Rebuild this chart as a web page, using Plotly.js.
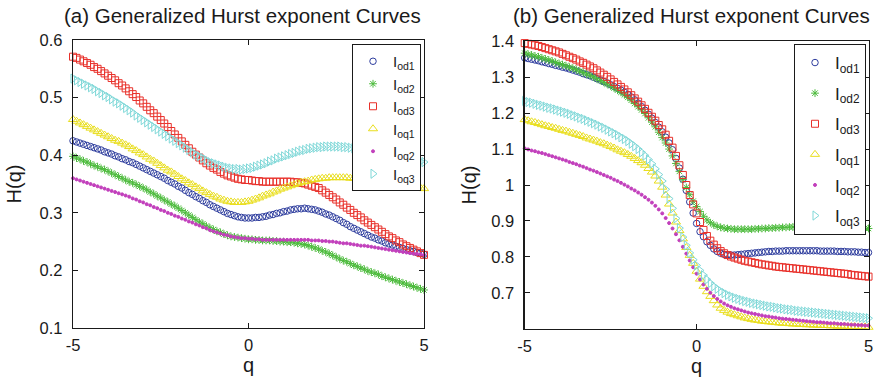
<!DOCTYPE html>
<html><head><meta charset="utf-8">
<script src="https://cdn.plot.ly/plotly-3.0.1.min.js"></script>
<style>html,body{margin:0;padding:0;background:#fff}#chart{width:875px;height:377px}</style>
</head><body><div id="chart"></div>
<script>
const q = [-5.0,-4.9,-4.8,-4.7,-4.6,-4.5,-4.4,-4.3,-4.2,-4.1,
-4.0,-3.9,-3.8,-3.7,-3.6,-3.5,-3.4,-3.3,-3.2,-3.1,
-3.0,-2.9,-2.8,-2.7,-2.6,-2.5,-2.4,-2.3,-2.2,-2.1,
-2.0,-1.9,-1.8,-1.7,-1.6,-1.5,-1.4,-1.3,-1.2,-1.1,
-1.0,-0.9,-0.8,-0.7,-0.6,-0.5,-0.4,-0.3,-0.2,-0.1,
0.0,
0.1,0.2,0.3,0.4,0.5,0.6,0.7,0.8,0.9,1.0,
1.1,1.2,1.3,1.4,1.5,1.6,1.7,1.8,1.9,2.0,
2.1,2.2,2.3,2.4,2.5,2.6,2.7,2.8,2.9,3.0,
3.1,3.2,3.3,3.4,3.5,3.6,3.7,3.8,3.9,4.0,
4.1,4.2,4.3,4.4,4.5,4.6,4.7,4.8,4.9,5.0];

const seriesNames = ['I<sub>od1</sub>','I<sub>od2</sub>','I<sub>od3</sub>','I<sub>oq1</sub>','I<sub>oq2</sub>','I<sub>oq3</sub>'];

// (a) left panel
const a_od1 = [0.425,0.423,0.421,0.419,0.417,0.415,0.413,0.411,0.409,0.406,
0.404,0.402,0.399,0.397,0.394,0.392,0.389,0.387,0.384,0.381,
0.378,0.375,0.372,0.369,0.366,0.363,0.360,0.356,0.353,0.350,
0.346,0.343,0.339,0.335,0.332,0.328,0.325,0.321,0.318,0.314,
0.311,0.308,0.305,0.302,0.299,0.297,0.295,0.293,0.292,0.291,
0.291,
0.291,0.292,0.292,0.293,0.294,0.296,0.297,0.299,0.300,0.302,
0.303,0.305,0.306,0.307,0.307,0.308,0.307,0.306,0.305,0.303,
0.301,0.298,0.296,0.293,0.290,0.287,0.283,0.280,0.276,0.273,
0.270,0.267,0.264,0.261,0.258,0.256,0.253,0.251,0.248,0.246,
0.244,0.242,0.240,0.238,0.236,0.234,0.233,0.231,0.230,0.228];
const a_od2 = [0.398,0.395,0.393,0.390,0.388,0.385,0.382,0.380,0.377,0.375,
0.372,0.369,0.366,0.363,0.360,0.357,0.354,0.352,0.349,0.346,
0.343,0.340,0.336,0.333,0.329,0.326,0.322,0.319,0.315,0.312,
0.308,0.304,0.300,0.296,0.292,0.288,0.284,0.281,0.277,0.274,
0.271,0.268,0.266,0.263,0.261,0.259,0.258,0.257,0.256,0.255,
0.254,
0.254,0.253,0.253,0.252,0.252,0.252,0.251,0.251,0.250,0.250,
0.249,0.249,0.248,0.247,0.246,0.245,0.243,0.241,0.239,0.237,
0.234,0.232,0.229,0.226,0.223,0.220,0.217,0.215,0.212,0.209,
0.207,0.204,0.202,0.199,0.197,0.195,0.193,0.190,0.188,0.186,
0.184,0.182,0.180,0.178,0.176,0.174,0.172,0.170,0.168,0.166];
const a_od3 = [0.571,0.569,0.566,0.563,0.560,0.557,0.553,0.550,0.546,0.542,
0.538,0.534,0.530,0.525,0.521,0.516,0.511,0.506,0.501,0.495,
0.490,0.484,0.478,0.473,0.467,0.461,0.455,0.449,0.442,0.436,
0.430,0.424,0.418,0.412,0.406,0.401,0.396,0.391,0.386,0.382,
0.378,0.375,0.371,0.368,0.365,0.363,0.361,0.359,0.358,0.357,
0.357,
0.356,0.355,0.355,0.354,0.354,0.354,0.354,0.354,0.354,0.354,
0.354,0.354,0.353,0.353,0.352,0.351,0.349,0.347,0.345,0.343,
0.339,0.335,0.331,0.327,0.323,0.318,0.314,0.309,0.305,0.300,
0.296,0.292,0.287,0.283,0.279,0.275,0.271,0.267,0.263,0.259,
0.256,0.252,0.249,0.245,0.242,0.239,0.236,0.233,0.230,0.227];
const a_oq1 = [0.462,0.459,0.456,0.453,0.450,0.447,0.444,0.441,0.438,0.435,
0.432,0.429,0.426,0.424,0.421,0.418,0.415,0.411,0.408,0.404,
0.401,0.397,0.393,0.390,0.386,0.382,0.378,0.374,0.371,0.367,
0.363,0.359,0.356,0.352,0.349,0.345,0.342,0.338,0.335,0.332,
0.329,0.327,0.324,0.322,0.320,0.319,0.318,0.318,0.318,0.319,
0.320,
0.322,0.324,0.326,0.329,0.331,0.333,0.336,0.338,0.341,0.343,
0.345,0.347,0.349,0.351,0.353,0.354,0.355,0.357,0.358,0.359,
0.360,0.360,0.361,0.361,0.361,0.361,0.361,0.361,0.360,0.360,
0.359,0.359,0.358,0.358,0.357,0.356,0.355,0.355,0.354,0.353,
0.352,0.351,0.350,0.349,0.348,0.347,0.346,0.345,0.343,0.342];
const a_oq2 = [0.360,0.358,0.356,0.354,0.352,0.350,0.348,0.346,0.344,0.342,
0.340,0.338,0.336,0.334,0.332,0.330,0.328,0.325,0.323,0.320,
0.318,0.315,0.313,0.310,0.308,0.305,0.303,0.300,0.298,0.295,
0.293,0.290,0.288,0.285,0.283,0.280,0.278,0.275,0.273,0.270,
0.268,0.266,0.264,0.262,0.261,0.259,0.258,0.257,0.256,0.256,
0.255,
0.255,0.254,0.254,0.253,0.253,0.253,0.253,0.253,0.253,0.253,
0.253,0.253,0.253,0.253,0.253,0.253,0.253,0.252,0.252,0.252,
0.251,0.251,0.250,0.250,0.249,0.248,0.247,0.247,0.246,0.245,
0.244,0.243,0.243,0.242,0.241,0.240,0.239,0.238,0.237,0.236,
0.235,0.234,0.233,0.232,0.231,0.230,0.229,0.229,0.228,0.227];
const a_oq3 = [0.533,0.530,0.527,0.524,0.521,0.518,0.515,0.511,0.508,0.504,
0.501,0.497,0.493,0.490,0.486,0.482,0.478,0.474,0.469,0.465,
0.461,0.457,0.453,0.449,0.445,0.441,0.437,0.433,0.429,0.425,
0.421,0.417,0.413,0.409,0.405,0.401,0.398,0.395,0.391,0.388,
0.386,0.384,0.382,0.380,0.378,0.377,0.376,0.376,0.375,0.376,
0.377,
0.378,0.380,0.382,0.384,0.386,0.389,0.391,0.394,0.396,0.398,
0.400,0.402,0.404,0.406,0.408,0.409,0.411,0.412,0.413,0.414,
0.414,0.415,0.415,0.415,0.415,0.415,0.414,0.414,0.413,0.412,
0.411,0.410,0.409,0.408,0.406,0.405,0.404,0.402,0.401,0.400,
0.399,0.397,0.396,0.395,0.394,0.393,0.391,0.390,0.389,0.388];

// (b) right panel
const b_od1 = [1.354,1.352,1.350,1.348,1.346,1.343,1.341,1.338,1.336,1.333,
1.331,1.328,1.326,1.323,1.320,1.317,1.314,1.310,1.307,1.304,
1.300,1.296,1.292,1.288,1.284,1.279,1.274,1.269,1.264,1.258,
1.252,1.245,1.237,1.228,1.218,1.208,1.197,1.186,1.174,1.161,
1.148,1.133,1.117,1.098,1.074,1.047,1.016,0.985,0.953,0.922,
0.893,
0.870,0.856,0.842,0.832,0.822,0.815,0.810,0.807,0.806,0.805,
0.805,0.806,0.807,0.808,0.809,0.810,0.811,0.812,0.813,0.814,
0.815,0.815,0.816,0.816,0.816,0.817,0.817,0.817,0.817,0.817,
0.817,0.817,0.817,0.817,0.817,0.816,0.816,0.816,0.816,0.816,
0.815,0.815,0.815,0.814,0.814,0.814,0.813,0.813,0.812,0.812];
const b_od2 = [1.367,1.364,1.362,1.359,1.357,1.354,1.351,1.348,1.345,1.341,
1.338,1.335,1.332,1.328,1.325,1.321,1.317,1.313,1.309,1.305,
1.301,1.296,1.291,1.286,1.281,1.276,1.270,1.264,1.258,1.251,
1.244,1.236,1.227,1.218,1.209,1.199,1.187,1.175,1.162,1.147,
1.132,1.117,1.100,1.081,1.060,1.038,1.015,0.993,0.973,0.955,
0.940,
0.926,0.913,0.903,0.895,0.889,0.885,0.882,0.880,0.879,0.878,
0.877,0.877,0.877,0.877,0.877,0.877,0.878,0.878,0.879,0.879,
0.880,0.880,0.881,0.881,0.882,0.882,0.883,0.883,0.884,0.884,
0.884,0.885,0.885,0.885,0.885,0.885,0.885,0.884,0.884,0.884,
0.884,0.883,0.883,0.882,0.882,0.881,0.881,0.880,0.880,0.879];
const b_od3 = [1.395,1.393,1.391,1.389,1.387,1.384,1.381,1.378,1.375,1.372,
1.369,1.365,1.361,1.357,1.353,1.349,1.344,1.340,1.335,1.330,
1.325,1.319,1.313,1.307,1.301,1.294,1.287,1.280,1.273,1.266,
1.258,1.250,1.241,1.232,1.222,1.212,1.201,1.190,1.179,1.167,
1.155,1.140,1.123,1.104,1.081,1.055,1.028,1.000,0.972,0.946,
0.921,
0.897,0.875,0.858,0.845,0.834,0.824,0.816,0.810,0.805,0.801,
0.798,0.795,0.792,0.789,0.787,0.785,0.783,0.781,0.779,0.778,
0.776,0.775,0.773,0.772,0.771,0.770,0.769,0.768,0.767,0.766,
0.765,0.764,0.763,0.762,0.761,0.760,0.759,0.758,0.757,0.756,
0.755,0.754,0.753,0.752,0.750,0.749,0.748,0.747,0.746,0.745];
const b_oq1 = [1.182,1.179,1.176,1.174,1.171,1.168,1.165,1.163,1.160,1.158,
1.155,1.152,1.150,1.147,1.144,1.141,1.138,1.135,1.131,1.128,
1.125,1.122,1.118,1.115,1.111,1.107,1.103,1.098,1.094,1.090,
1.085,1.080,1.074,1.068,1.062,1.055,1.046,1.036,1.025,1.011,
0.994,0.972,0.947,0.922,0.897,0.873,0.850,0.826,0.804,0.782,
0.760,
0.738,0.718,0.703,0.690,0.678,0.666,0.657,0.651,0.646,0.642,
0.639,0.636,0.633,0.630,0.628,0.626,0.624,0.623,0.621,0.620,
0.619,0.618,0.617,0.616,0.615,0.615,0.614,0.613,0.613,0.612,
0.612,0.611,0.611,0.610,0.610,0.609,0.609,0.609,0.608,0.608,
0.607,0.607,0.607,0.606,0.606,0.606,0.605,0.605,0.605,0.604];
const b_oq2 = [1.102,1.099,1.096,1.094,1.091,1.089,1.086,1.083,1.080,1.077,
1.074,1.071,1.068,1.064,1.061,1.058,1.054,1.051,1.047,1.043,
1.040,1.036,1.032,1.028,1.024,1.020,1.015,1.011,1.006,1.001,
0.996,0.990,0.985,0.979,0.973,0.966,0.959,0.951,0.942,0.932,
0.921,0.908,0.894,0.879,0.863,0.846,0.828,0.809,0.790,0.771,
0.753,
0.737,0.723,0.711,0.700,0.691,0.683,0.676,0.670,0.665,0.661,
0.657,0.654,0.651,0.648,0.645,0.643,0.641,0.639,0.637,0.635,
0.634,0.632,0.631,0.629,0.628,0.627,0.626,0.625,0.624,0.623,
0.622,0.621,0.620,0.619,0.618,0.618,0.617,0.616,0.615,0.615,
0.614,0.613,0.613,0.612,0.611,0.611,0.610,0.610,0.609,0.609];
const b_oq3 = [1.234,1.231,1.229,1.226,1.223,1.221,1.218,1.215,1.213,1.210,
1.207,1.204,1.201,1.198,1.194,1.191,1.187,1.184,1.180,1.176,
1.172,1.168,1.163,1.159,1.154,1.149,1.144,1.139,1.133,1.128,
1.122,1.115,1.108,1.100,1.091,1.082,1.071,1.059,1.045,1.029,
1.011,0.988,0.962,0.935,0.907,0.880,0.855,0.832,0.811,0.792,
0.776,
0.762,0.749,0.737,0.727,0.718,0.711,0.704,0.699,0.694,0.690,
0.686,0.683,0.680,0.677,0.675,0.672,0.670,0.668,0.666,0.664,
0.662,0.661,0.659,0.657,0.656,0.654,0.653,0.652,0.650,0.649,
0.648,0.647,0.646,0.645,0.644,0.643,0.642,0.641,0.640,0.639,
0.638,0.637,0.636,0.635,0.634,0.633,0.632,0.631,0.630,0.629];

const aTicksY = [0.1,0.2,0.3,0.4,0.5,0.6];
const aTickTextY = ['0.1','0.2','0.3','0.4','0.5','0.6'];
const bTicksY = [0.7,0.8,0.9,1.0,1.1,1.2,1.3,1.4];
const bTickTextY = ['0.7','0.8','0.9','1','1.1','1.2','1.3','1.4'];
const xTicks = [-5,0,5];
const xTickText = ['-5','0','5'];

const styles = [
  {symbol:'circle-open', color:'#2e3d9e', size:6.5},
  {symbol:'asterisk-open', color:'#4cbb3c', size:6.5},
  {symbol:'square-open', color:'#e8302a', size:7},
  {symbol:'triangle-up-open', color:'#e9de1c', size:8},
  {symbol:'circle', color:'#c23fbc', size:3},
  {symbol:'triangle-right-open', color:'#7fd8d8', size:8}
];

const aData = [a_od1,a_od2,a_od3,a_oq1,a_oq2,a_oq3];
const bData = [b_od1,b_od2,b_od3,b_oq1,b_oq2,b_oq3];

const traces = [];
aData.forEach((ys,i)=>{
  traces.push({x:q, y:ys, name:seriesNames[i], type:'scatter', mode:'markers',
    xaxis:'x', yaxis:'y', legend:'legend', legendgroup:'a'+i, cliponaxis:false,
    marker:{symbol:styles[i].symbol, size:styles[i].size, color:styles[i].color,
      line:{color:styles[i].color, width:1}}});
});
bData.forEach((ys,i)=>{
  traces.push({x:q, y:ys, name:seriesNames[i], type:'scatter', mode:'markers',
    xaxis:'x2', yaxis:'y2', legend:'legend2', legendgroup:'b'+i, cliponaxis:false,
    marker:{symbol:styles[i].symbol, size:styles[i].size, color:styles[i].color,
      line:{color:styles[i].color, width:1}}});
});

const font = 'Liberation Sans, Arial, Helvetica, sans-serif';
const axCommon = {showgrid:false, zeroline:false, showline:true, linecolor:'#1a1a1a', linewidth:1.3,
  mirror:'ticks', ticks:'inside', ticklen:5, tickwidth:1, tickcolor:'#1a1a1a',
  tickfont:{family:font, size:16.5, color:'#1a1a1a'}, automargin:false};

const layout = {
  width:875, height:377, margin:{l:0,r:0,t:0,b:0},
  paper_bgcolor:'#fff', plot_bgcolor:'#fff',
  font:{family:font, color:'#1a1a1a'},
  xaxis: Object.assign({}, axCommon, {domain:[73/875, 424/875], range:[-5,5], tickvals:xTicks, ticktext:xTickText,
    ticklabelstandoff:2, title:{text:'q', font:{size:20, family:font}, standoff:2}}),
  yaxis: Object.assign({}, axCommon, {domain:[49/377, 337/377], range:[0.1,0.6], tickvals:aTicksY, ticktext:aTickTextY,
    ticklabelstandoff:6, title:{text:'H(q)', font:{size:20, family:font}, standoff:12}}),
  xaxis2: Object.assign({}, axCommon, {anchor:'y2', domain:[524.7/875, 868.5/875], range:[-5,5], tickvals:xTicks, ticktext:xTickText,
    ticklabelstandoff:2, title:{text:'q', font:{size:20, family:font}, standoff:2}}),
  yaxis2: Object.assign({}, axCommon, {anchor:'x2', domain:[48.3/377, 335.7/377], range:[0.6,1.4], tickvals:bTicksY, ticktext:bTickTextY,
    ticklabelstandoff:6, title:{text:'H(q)', font:{size:20, family:font}, standoff:9}}),
  legend:{x:421/875, xanchor:'right', y:(377-44)/377, yanchor:'top', bgcolor:'#fff', bordercolor:'#1a1a1a', borderwidth:1,
    font:{family:font, size:15, color:'#1a1a1a'}, itemwidth:30, tracegroupgap:0},
  legend2:{x:866/875, xanchor:'right', y:(377-44)/377, yanchor:'top', bgcolor:'#fff', bordercolor:'#1a1a1a', borderwidth:1,
    font:{family:font, size:17, color:'#1a1a1a'}, itemwidth:30, tracegroupgap:5.5},
  showlegend:true,
  annotations:[
    {text:'(a) Generalized Hurst exponent Curves', xref:'paper', yref:'paper', x:242/875, y:(377-15)/377,
      xanchor:'center', yanchor:'middle', showarrow:false, font:{family:font, size:20.5, color:'#1a1a1a'}},
    {text:'(b) Generalized Hurst exponent Curves', xref:'paper', yref:'paper', x:691/875, y:(377-15)/377,
      xanchor:'center', yanchor:'middle', showarrow:false, font:{family:font, size:20.5, color:'#1a1a1a'}}
  ]
};

Plotly.newPlot('chart', traces, layout, {staticPlot:true, displayModeBar:false});
</script>
</body></html>
